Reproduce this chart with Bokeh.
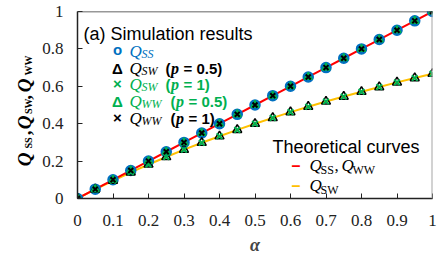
import math
from bokeh.plotting import figure
from bokeh.models import Label, Span, FixedTicker, Range1d
from bokeh.layouts import row
from bokeh.embed import file_html
from bokeh.resources import INLINE

# ---------------- data ----------------
alpha = [0.0, 0.05, 0.1, 0.15, 0.2, 0.25, 0.3, 0.35, 0.4, 0.45, 0.5,
         0.55, 0.6, 0.65, 0.7, 0.75, 0.8, 0.85, 0.9, 0.95, 1.0]

theory_ss_ww = [0.0, 0.05, 0.1, 0.15, 0.2, 0.25, 0.3, 0.35, 0.4, 0.45, 0.5,
                0.55, 0.6, 0.65, 0.7, 0.75, 0.8, 0.85, 0.9, 0.95, 1.0]
theory_sw = [0.0, 0.049, 0.095, 0.14, 0.182, 0.222, 0.261, 0.298, 0.333, 0.367, 0.4,
             0.431, 0.462, 0.491, 0.519, 0.545, 0.571, 0.596, 0.621, 0.644, 0.667]

sim_ss = [0.0, 0.05, 0.1, 0.15, 0.2, 0.25, 0.3, 0.35, 0.4, 0.45, 0.5,
          0.55, 0.6, 0.65, 0.7, 0.75, 0.8, 0.85, 0.9, 0.95, 1.0]
sim_sw_p05 = [0.0, 0.049, 0.095, 0.14, 0.182, 0.222, 0.261, 0.298, 0.333, 0.367, 0.4,
              0.431, 0.462, 0.491, 0.519, 0.545, 0.571, 0.596, 0.621, 0.644, 0.667]
sim_sw_p1 = [0.0, 0.049, 0.095, 0.14, 0.182, 0.222, 0.261, 0.298, 0.333, 0.367, 0.4,
             0.431, 0.462, 0.491, 0.519, 0.545, 0.571, 0.596, 0.621, 0.644, 0.667]
sim_ww_p05 = [0.0, 0.05, 0.1, 0.15, 0.2, 0.25, 0.3, 0.35, 0.4, 0.45, 0.5,
              0.55, 0.6, 0.65, 0.7, 0.75, 0.8, 0.85, 0.9, 0.95, 1.0]
sim_ww_p1 = [0.0, 0.05, 0.1, 0.15, 0.2, 0.25, 0.3, 0.35, 0.4, 0.45, 0.5,
             0.55, 0.6, 0.65, 0.7, 0.75, 0.8, 0.85, 0.9, 0.95, 1.0]

x_ticks = [0, 0.1, 0.2, 0.3, 0.4, 0.5, 0.6, 0.7, 0.8, 0.9, 1]
x_tick_labels = ["0", "0.1", "0.2", "0.3", "0.4", "0.5", "0.6", "0.7", "0.8", "0.9", "1"]
y_ticks = [0, 0.2, 0.4, 0.6, 0.8, 1]
y_tick_labels = ["0", "0.2", "0.4", "0.6", "0.8", "1"]

BLUE = "#0070C0"
GREEN = "#00B050"
RED = "#FF0000"
ORANGE = "#FFC000"
SERIF = "Liberation Serif"
SANS = "Liberation Sans"

LEFT_W = 38  # narrow strip holding the rotated y-axis title

# ---------------- main figure ----------------
p = figure(width=447 - LEFT_W, height=264, x_range=Range1d(0, 1), y_range=Range1d(0, 1),
           output_backend="svg", toolbar_location=None,
           min_border_left=77 - LEFT_W, min_border_right=15, min_border_top=11, min_border_bottom=66)
p.grid.visible = False
p.outline_line_color = None

for ax, ticks, labels in ((p.xaxis[0], x_ticks, x_tick_labels), (p.yaxis[0], y_ticks, y_tick_labels)):
    ax.ticker = FixedTicker(ticks=ticks, minor_ticks=[])
    ax.major_label_overrides = {t: l for t, l in zip(ticks, labels)}
    ax.axis_line_color = "#222222"
    ax.axis_line_width = 1.5
    ax.major_tick_line_color = "#222222"
    ax.major_tick_line_width = 1
    ax.major_tick_in = 5
    ax.major_tick_out = 0
    ax.minor_tick_line_color = None
    ax.major_label_text_font = SERIF
    ax.major_label_text_font_size = "17px"
    ax.major_label_text_color = "#222222"

p.xaxis.major_label_standoff = 16
p.yaxis.major_label_standoff = 14
p.xaxis.axis_label = "α"
p.xaxis.axis_label_text_font = SERIF
p.xaxis.axis_label_text_font_style = "bold italic"
p.xaxis.axis_label_text_font_size = "18px"
p.xaxis.axis_label_standoff = 6

p.add_layout(Span(location=1, dimension="height", line_color="#A6A6A6", line_width=2))
p.add_layout(Span(location=1, dimension="width", line_color="#333333", line_width=1.5))

# theoretical curves
p.line(alpha, theory_sw, line_color=ORANGE, line_width=2)
p.line(alpha, theory_ss_ww, line_color=RED, line_width=2)

# simulation markers
p.scatter(alpha, sim_ss, marker="circle", size=10, line_color=BLUE, fill_color=BLUE, line_width=1.5)
p.scatter(alpha, sim_sw_p05, marker="triangle", size=9, line_color="black", fill_color=None, line_width=1.5)
p.scatter(alpha, sim_sw_p1, marker="x", size=8, line_color=GREEN, line_width=2)
p.scatter(alpha, sim_ww_p05, marker="triangle", size=8, line_color=GREEN, fill_color=GREEN, line_width=1.5)
p.scatter(alpha, sim_ww_p1, marker="x", size=7, line_color="black", line_width=2)


def lab(fig, dx, text, x, y, size, color="black", font=SANS, style="normal", angle=0.0,
        align="left", baseline="alphabetic"):
    fig.add_layout(Label(x=x - dx, y=y, x_units="canvas", y_units="canvas", text=text,
                         text_font=font, text_font_size=f"{size}px", text_font_style=style,
                         text_color=color, angle=angle, text_align=align, text_baseline=baseline))


def mlab(*a, **k):
    lab(p, LEFT_W, *a, **k)


# ---------------- simulation legend ----------------
mlab("(a) Simulation results", 83, 33.5, 18)

rows = [
    ("o", -2.5, "SS", BLUE, None, None),
    ("Δ", 0, "SW", "black", "0.5", 165),
    ("×", -1, "SW", GREEN, "1", 165),
    ("Δ", 0, "WW", GREEN, "0.5", 170),
    ("×", -1, "WW", "black", "1", 170),
]
base0 = 51
step = 16.7
for i, (sym, off, sub, col, par, px) in enumerate(rows):
    b = base0 + i * step
    mlab(sym, 117, b + off, 15, color=col, style="bold", align="center")
    mlab("Q", 129, b, 17, color=col, font=SERIF, style="italic")
    mlab(sub, 141, b + 2.5, 12, color=col, font=SERIF, style="italic")
    if par is not None:
        mlab("(", px, b, 15, color=col, style="bold")
        mlab("p", px + 5.5, b, 16, color=col, font=SERIF, style="bold italic")
        mlab("= " + par + ")", px + 18, b, 15, color=col, style="bold")

# ---------------- theoretical legend ----------------
mlab("Theoretical curves", 272, 146.7, 18)
mlab("–", 291, 165, 16, color=RED, style="bold")
mlab("Q", 309, 165, 17, font=SERIF, style="italic")
mlab("SS", 320, 169.5, 12, font=SERIF)
mlab(",", 334, 165, 17, font=SERIF)
mlab("Q", 341, 165, 17, font=SERIF, style="italic")
mlab("WW", 352, 169.5, 12, font=SERIF)
mlab("–", 291, 185, 16, color=ORANGE, style="bold")
mlab("Q", 309, 185, 17, font=SERIF, style="italic")
mlab("SW", 320, 189.5, 12, font=SERIF)

# ---------------- y axis title strip ----------------
pl = figure(width=LEFT_W, height=264, x_range=Range1d(0, 1), y_range=Range1d(0, 1),
            output_backend="svg", toolbar_location=None,
            min_border_left=0, min_border_right=0, min_border_top=0, min_border_bottom=0,
            x_axis_type=None, y_axis_type=None)
pl.grid.visible = False
pl.outline_line_color = None

A = math.pi / 2
# rotated pieces, right-aligned: anchor is the upper end of each piece
for text, x, y_top, size, style in [
    ("Q", 24, 152, 19, "bold italic"),
    ("SS", 28, 137, 10, "bold"),
    (",", 24, 130, 19, "bold"),
    ("Q", 24, 115, 19, "bold italic"),
    ("SW", 28, 98, 10, "bold"),
    (",", 24, 94.5, 19, "bold"),
    ("Q", 24, 78, 19, "bold italic"),
    ("WW", 28, 55, 10, "bold"),
]:
    lab(pl, 0, text, x, y_top, size, font=SERIF, style=style, angle=A, align="right")

layout = row(pl, p, spacing=0)
open("out.html", "w").write(file_html(layout, INLINE))
